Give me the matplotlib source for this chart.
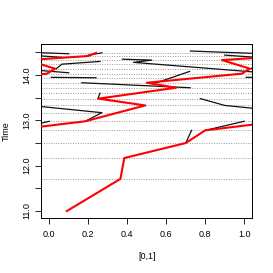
import numpy as np
import matplotlib.pyplot as plt

# event times (dotted lines)
event_t = [11.71, 12.17, 12.50, 12.78, 12.98, 13.17, 13.33, 13.48, 13.60, 13.72,
           13.83, 13.93, 14.03, 14.14, 14.24, 14.33, 14.42, 14.49]

# red lineage (unwrapped position on the circle)
red_x = [0.09, 0.365, 0.385, 0.70, 0.80, 1.184, 1.492, 1.252, 1.65, 1.50,
         1.987, 2.03, 1.886, 2.20, 2.24]
red_t = [11.00, 11.71, 12.17, 12.50, 12.78, 12.98, 13.33, 13.48, 13.72, 13.83,
         14.03, 14.14, 14.33, 14.42, 14.49]

# other lineages (unwrapped)
black_x = [
    [0.724, 1.10],
    [-0.10, 0.064],
    [0.20, 0.27],
    [0.036, 0.064, 0.26],
    [0.01, 0.24],
    [0.167, 0.723],
    [0.375, 0.526, 0.432, 1.10],
    [0.55, 0.72],
    [0.80, 1.0],
    [0.25, 0.26],
    [0.70, 0.73],
    [0.775, 0.90, 1.27, 1.184],
]
black_t = [
    [14.53, 14.47],
    [14.44, 14.39],
    [14.44, 14.49],
    [14.14, 14.24, 14.30],
    [13.95, 13.94],
    [13.83, 13.72],
    [14.35, 14.33, 14.28, 14.05],
    [13.83, 14.08],
    [12.78, 12.98],
    [13.48, 13.60],
    [12.50, 12.78],
    [13.48, 13.33, 13.17, 12.98],
]

plt.rcParams['font.family'] = ['Liberation Sans', 'DejaVu Sans']
fig = plt.figure(figsize=(2.73, 2.73), dpi=100)
ax = fig.add_axes([0.152, 0.202, 0.771, 0.636])

for t in event_t:
    ax.axhline(t, color='#999999', lw=0.7, ls=(0, (1, 1.5)), zorder=1)

for xs, ts in zip(black_x, black_t):
    xs = np.array(xs)
    for s in (-2, -1, 0, 1):
        ax.plot(xs + s, ts, color='#111111', lw=0.9, zorder=2)

rx = np.array(red_x)
for s in (-2, -1, 0):
    ax.plot(rx + s, red_t, color='red', lw=1.5, zorder=3)

ax.set_xlim(-0.04, 1.04)
ax.set_ylim(10.85, 14.68)
ax.set_xticks(np.arange(0, 1.01, 0.2))
ax.set_xticklabels(['0.0', '0.2', '0.4', '0.6', '0.8', '1.0'])
yt = np.arange(11.0, 14.51, 0.5)
ax.set_yticks(yt)
ax.set_yticklabels(['%.1f' % v if v % 1 == 0 else '' for v in yt], rotation=90, va='center')
ax.tick_params(labelsize=6.5, length=4, width=0.6, pad=5)
ax.tick_params(axis='y', pad=3)
for sp in ax.spines.values():
    sp.set_linewidth(0.7)
ax.set_xlabel('[0,1]', fontsize=6.5, labelpad=9)
ax.set_ylabel('Time', fontsize=6.5, labelpad=9)

fig.savefig('out.png', dpi=100)
